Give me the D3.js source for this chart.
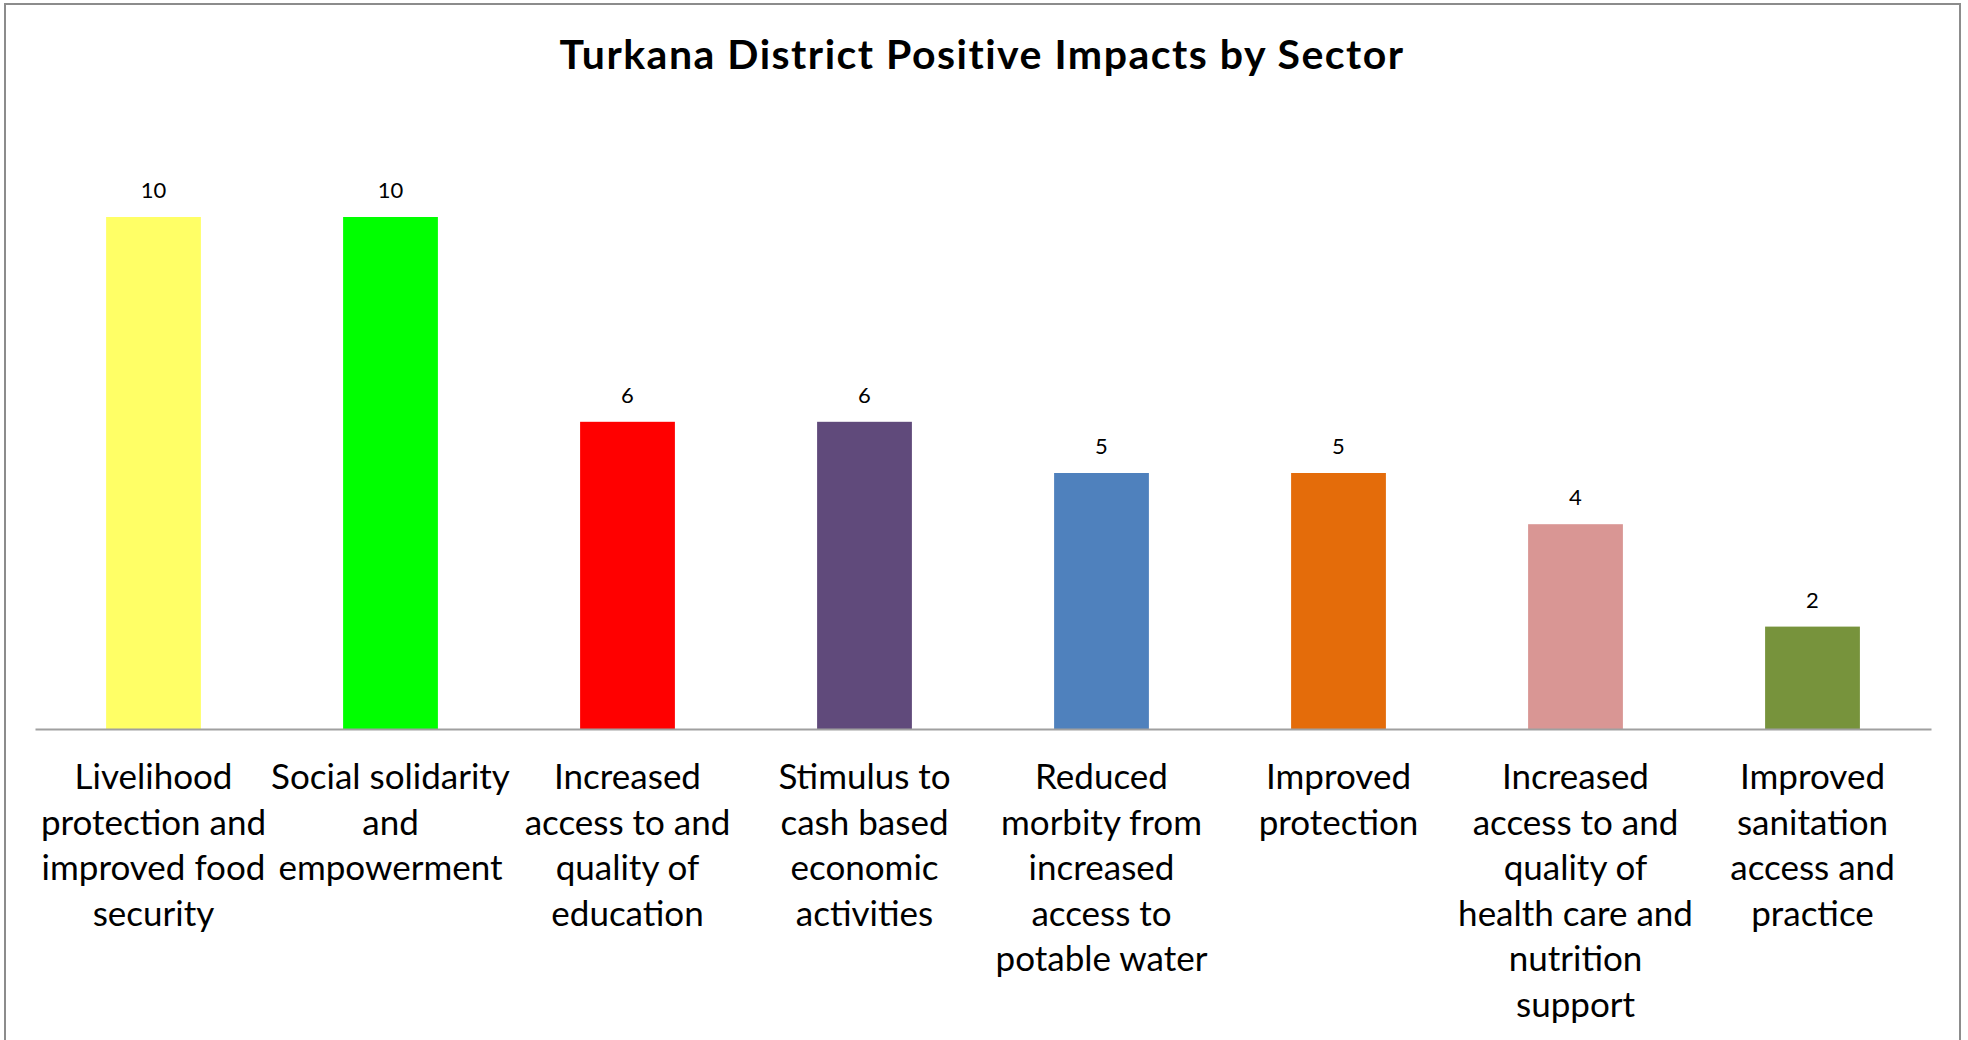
<!DOCTYPE html>
<html>
<head>
<meta charset="utf-8">
<script src="https://cdn.jsdelivr.net/npm/d3@7"></script>
<style>
  html, body { margin: 0; padding: 0; background: #fff; }
  svg { display: block; }
</style>
</head>
<body>
<svg id="chart" width="1968" height="1040"></svg>
<script>
// Sectors (line breaks mark how each axis label wraps)
const categories = [
  "Livelihood\nprotection and\nimproved food\nsecurity",
  "Social solidarity\nand\nempowerment",
  "Increased\naccess to and\nquality of\neducation",
  "Stimulus to\ncash based\neconomic\nactivities",
  "Reduced\nmorbity from\nincreased\naccess to\npotable water",
  "Improved\nprotection",
  "Increased\naccess to and\nquality of\nhealth care and\nnutrition\nsupport",
  "Improved\nsanitation\naccess and\npractice"
];
const impacts = [10, 10, 6, 6, 5, 5, 4, 2];
const barColors = ["#FFFF66", "#00FF00", "#FF0000", "#604A7B", "#4F81BD", "#E46C0A", "#D99694", "#77933C"];
const chartTitle = "Turkana District Positive Impacts by Sector";

const W = 1968, H = 1040;
const margin = { left: 35, right: 37, top: 217, bottom: 311 };
const baseY = H - margin.bottom;           // 729
const svg = d3.select("#chart");
const FONT = "Lato, 'Open Sans', sans-serif";

// outer frame
svg.append("rect")
  .attr("x", 5).attr("y", 4)
  .attr("width", 1955).attr("height", 1060)
  .attr("fill", "#fff")
  .attr("stroke", "#8c8c8c").attr("stroke-width", 2);

const x = d3.scaleBand()
  .domain(d3.range(categories.length))
  .range([margin.left, W - margin.right])
  .padding(0);

const y = d3.scaleLinear()
  .domain([0, 10])
  .range([baseY, margin.top]);

const barW = x.bandwidth() * 0.4;

// bars
svg.append("g").selectAll("rect")
  .data(impacts)
  .join("rect")
  .attr("x", (d, i) => x(i) + (x.bandwidth() - barW) / 2)
  .attr("y", d => y(d))
  .attr("width", barW)
  .attr("height", d => y(0) - y(d))
  .attr("fill", (d, i) => barColors[i]);

// value labels
svg.append("g").selectAll("text")
  .data(impacts)
  .join("text")
  .attr("x", (d, i) => x(i) + x.bandwidth() / 2)
  .attr("y", d => y(d) - 19)
  .attr("text-anchor", "middle")
  .attr("font-family", FONT)
  .attr("font-size", 22)
  .attr("fill", "#000")
  .text(d => d);

// category axis
const axis = svg.append("g")
  .attr("transform", `translate(0,${baseY})`)
  .call(d3.axisBottom(x).tickSize(0).tickFormat(""));
axis.select(".domain").attr("stroke", "#a0a0a0").attr("stroke-width", 2);

axis.selectAll(".tick").each(function (i) {
  const t = d3.select(this).append("text")
    .attr("fill", "#000")
    .attr("font-family", FONT)
    .attr("font-size", 35)
    .attr("text-anchor", "middle")
    .attr("y", 60);
  categories[i].split("\n").forEach((line, k) => {
    t.append("tspan").attr("x", 0).attr("dy", k === 0 ? 0 : 45.6).text(line);
  });
});

// title
svg.append("text")
  .attr("x", 982).attr("y", 69)
  .attr("text-anchor", "middle")
  .attr("font-family", FONT)
  .attr("font-weight", "bold")
  .attr("font-size", 41)
  .attr("letter-spacing", 1.5)
  .attr("fill", "#000")
  .text(chartTitle);
</script>
</body>
</html>
